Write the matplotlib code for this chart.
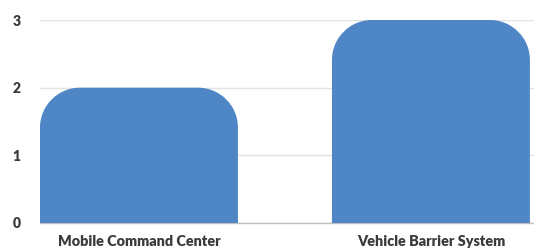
import matplotlib.pyplot as plt
from matplotlib.path import Path
from matplotlib.patches import PathPatch

categories = ['Mobile Command Center', 'Vehicle Barrier System']
values = [2, 3]
yticks = [0, 1, 2, 3]

bar_color = '#4F86C6'
text_color = '#3a3a3a'

fig = plt.figure(figsize=(5.34, 2.48), dpi=100)
ax = fig.add_axes([40 / 534, 25 / 248, 494 / 534, 203 / 248])

x = list(range(len(categories)))
bars = ax.bar(x, values, width=0.678, color=bar_color)
ax.set_xlim(-0.339, 1.353)
ax.set_ylim(0, 3)

# replace square bars with rounded-top shapes (radius ~40 px)
rx = 40 / 292
ry = 40 / 67.7
for b in bars:
    x0, y0 = b.get_x(), b.get_y()
    w, h = b.get_width(), b.get_height()
    x1, y1 = x0 + w, y0 + h
    k = 0.5523
    verts = [(x0, y0), (x0, y1 - ry),
             (x0, y1 - ry + k * ry), (x0 + rx - k * rx, y1), (x0 + rx, y1),
             (x1 - rx, y1),
             (x1 - rx + k * rx, y1), (x1, y1 - ry + k * ry), (x1, y1 - ry),
             (x1, y0), (x0, y0)]
    codes = [Path.MOVETO, Path.LINETO,
             Path.CURVE4, Path.CURVE4, Path.CURVE4,
             Path.LINETO,
             Path.CURVE4, Path.CURVE4, Path.CURVE4,
             Path.LINETO, Path.CLOSEPOLY]
    ax.add_patch(PathPatch(Path(verts, codes), facecolor=bar_color, edgecolor='none', zorder=3))
    b.set_visible(False)

ax.set_yticks(yticks)
ax.set_yticklabels([str(t) for t in yticks], fontsize=10, fontweight='heavy',
                   color=text_color, family=['Lato', 'DejaVu Sans'])
ax.set_xticks(x)
ax.set_xticklabels(categories, fontsize=10.4, fontweight='heavy',
                   color=text_color, family=['Lato', 'DejaVu Sans'])
ax.tick_params(axis='both', length=0)
ax.tick_params(axis='y', pad=14)
ax.tick_params(axis='x', pad=8.5)

ax.grid(axis='y', color='#e3e3e3', linewidth=1)
ax.set_axisbelow(True)
for s in ['top', 'right', 'left']:
    ax.spines[s].set_visible(False)
ax.spines['bottom'].set_color('#bfbfbf')
ax.spines['bottom'].set_linewidth(1)

fig.savefig('out.png', dpi=100)
